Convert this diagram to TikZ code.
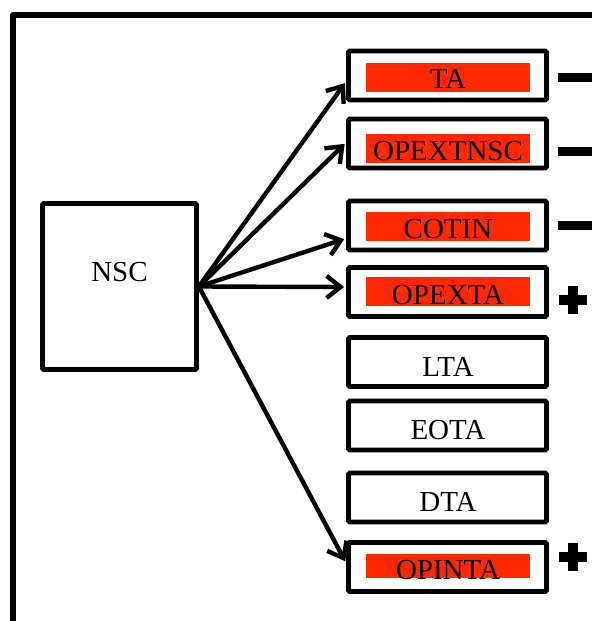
\documentclass[tikz,border=0pt]{standalone}
\usepackage{fontspec}
\setmainfont{Liberation Serif}
\usetikzlibrary{arrows.meta}

\definecolor{hlred}{RGB}{255,40,0}

\begin{document}
\begin{tikzpicture}[x=0.5pt,y=-0.5pt,
  font=\fontsize{14.5}{17}\selectfont,
  box/.style={draw,line width=2.4pt,rounded corners=0.6pt,minimum width=99pt,minimum height=24.5pt,inner sep=0pt},
  hl/.style={fill=hlred,minimum width=82pt,minimum height=14.5pt,inner sep=0pt},
  txt/.style={inner sep=0pt},
  arr/.style={line width=2.2pt,-{Straight Barb[length=7pt,width=11pt,line width=2.2pt]},shorten >=1pt}]
\useasboundingbox (0,0) rectangle (591,621);

% outer frame
\draw[line width=2.6pt,line join=round] (13,640) -- (13,15) -- (620,15);

\node[box,minimum width=77pt,minimum height=83pt] (nsc) at (119.5,286.5) {};
\node[txt] (nsct) at (119.5,272) {NSC};

\node[box] (ta) at (447.5,75.5) {};
\node[hl] (tab) at (448,77) {};
\node[txt] (tat) at (448,79) {TA};
\node[box] (opextnsc) at (447.5,143.5) {};
\node[hl] (opextnscb) at (448,148.5) {};
\node[txt] (opextnsct) at (448,151) {OPEXTNSC};
\node[box] (cotin) at (447.5,225.5) {};
\node[hl] (cotinb) at (448,226.5) {};
\node[txt] (cotint) at (448,229) {COTIN};
\node[box] (opexta) at (447.5,292) {};
\node[hl] (opextab) at (448,291.5) {};
\node[txt] (opextat) at (448,295) {OPEXTA};
\node[box] (lta) at (447.5,362) {};
\node[txt] (ltat) at (448,367) {LTA};
\node[box] (eota) at (447.5,425.5) {};
\node[txt] (eotat) at (448,430) {EOTA};
\node[box] (dta) at (447.5,497.5) {};
\node[txt] (dtat) at (448,502) {DTA};
\node[box] (opinta) at (447.5,567) {};
\node[hl,minimum height=12pt] (opintab) at (448,566) {};
\node[txt] (opintat) at (448,570) {OPINTA};

\draw[arr] (nsc.east) -- ([yshift=-3pt]ta.west);
\draw[arr] (nsc.east) -- ([yshift=0.5pt]opextnsc.west);
\draw[arr] (nsc.east) -- ([yshift=-6.5pt]cotin.west);
\draw[arr] (nsc.east) -- ([yshift=2.5pt]opexta.west);
\draw[arr] (nsc.east) -- ([yshift=2pt]opinta.west);

% signs
\draw[line width=4.5pt] ([xshift=4.5pt,yshift=-1pt]ta.east) -- +(45,0);
\draw[line width=4.5pt] ([xshift=4.5pt,yshift=-4pt]opextnsc.east) -- +(45,0);
\draw[line width=4.5pt] ([xshift=4.5pt,yshift=0pt]cotin.east) -- +(45,0);
\foreach \n/\dy in {opexta/-4, opinta/5} {
  \coordinate (p) at ([xshift=12pt,yshift=\dy pt]\n.east);
  \fill ([xshift=-7pt,yshift=-2.6pt]p) rectangle ([xshift=7pt,yshift=2.6pt]p);
  \fill ([xshift=-2.6pt,yshift=-7pt]p) rectangle ([xshift=2.6pt,yshift=7pt]p);
}
\end{tikzpicture}
\end{document}
